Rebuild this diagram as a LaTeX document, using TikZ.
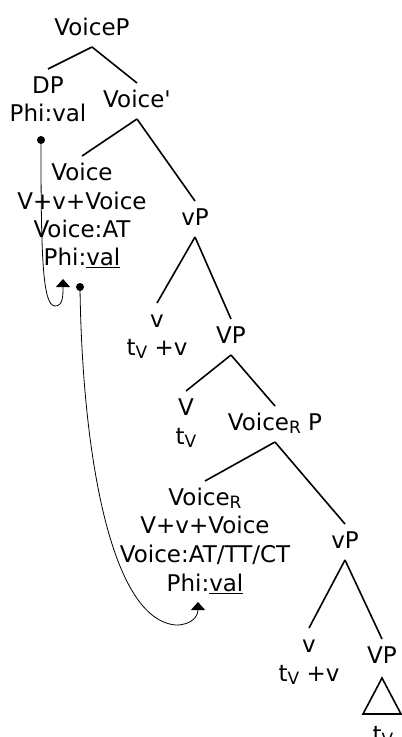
\documentclass[tikz,border=0pt]{standalone}
\usepackage{fontspec}
\setmainfont{DejaVu Sans}
\usetikzlibrary{arrows.meta}
\newcommand{\lowsub}[1]{\raisebox{-3pt}{\fontsize{17}{17}\selectfont #1}}
\newcommand{\treeedge}[2]{\draw[edge] ([yshift=-12pt]#1.base) -- ([yshift=24pt]#2.base);}
\begin{document}
\begin{tikzpicture}[x=1pt,y=-1pt,
  lab/.style={anchor=base,inner sep=0pt,font=\fontsize{23}{28}\selectfont},
  edge/.style={line width=1.6pt},
  move/.style={line width=0.8pt},
  dotmark/.style={fill=black}]
\useasboundingbox (0,0) rectangle (402,737);
% labels
\node[lab] (VoiceP) at (92,35) {VoiceP};
\node[lab] (DP) at (48,93) {DP};
\node[lab] (DPphi) at (48,121) {Phi:val};
\node[lab] (Voicebar) at (137,107) {Voice\textquotesingle};
\node[lab] (Voice) at (82,180) {Voice};
\node[lab] (Voiceb) at (82,209) {V+v+Voice};
\node[lab] (Voicec) at (82,237) {Voice:AT};
\node[lab] (Voiced) at (82,265) {Phi:\underline{val}};
\node[lab] (vP) at (195,225) {vP};
\node[lab] (v1) at (157,327) {v};
\node[lab] (v1b) at (157,355) {t\lowsub{V} +v};
\node[lab] (VP) at (231,343) {VP};
\node[lab] (V) at (186,415) {V};
\node[lab] (Vb) at (186,444) {t\lowsub{V}};
\node[lab] (VRP) at (275,430) {Voice\lowsub{R} P};
\node[lab] (VR) at (205,505) {Voice\lowsub{R}};
\node[lab] (VRb) at (205,533) {V+v+Voice};
\node[lab] (VRc) at (205,562) {Voice:AT/TT/CT};
\node[lab] (VRd) at (205,591) {Phi:\underline{val}};
\node[lab] (vP2) at (345,548) {vP};
\node[lab] (v2) at (309,652) {v};
\node[lab] (v2b) at (309,681) {t\lowsub{V} +v};
\node[lab] (VP2) at (382,663) {VP};
\node[lab] (tV3) at (383,742) {t\lowsub{V}};
% tree edges
\treeedge{VoiceP}{DP}
\treeedge{VoiceP}{Voicebar}
\treeedge{Voicebar}{Voice}
\treeedge{Voicebar}{vP}
\treeedge{vP}{v1}
\treeedge{vP}{VP}
\treeedge{VP}{V}
\treeedge{VP}{VRP}
\treeedge{VRP}{VR}
\treeedge{VRP}{vP2}
\treeedge{vP2}{v2}
\treeedge{vP2}{VP2}
% triangle
\draw[edge,line join=miter] ([yshift=-15pt]VP2.base) -- ([xshift=-19pt,yshift=-51pt]VP2.base) -- ([xshift=19pt,yshift=-51pt]VP2.base) -- cycle;
% movement arrows
\coordinate (dotA) at (41,140);
\coordinate (tipA) at (63,279);
\coordinate (dotB) at (80,287);
\coordinate (tipB) at (198,602);
\fill[dotmark] (dotA) circle (4pt);
\fill[dotmark] (dotB) circle (4pt);
\draw[move,-{Triangle[width=14pt,length=8pt]}] (dotA) .. controls (41,250) and (42,306) .. (55,306) .. controls (63,306) and (63,296) .. (tipA);
\draw[move,-{Triangle[width=14pt,length=8pt]}] (dotB) .. controls (82,450) and (110,620) .. (176,625) .. controls (192,625) and (198,616) .. (tipB);
\end{tikzpicture}
\end{document}
